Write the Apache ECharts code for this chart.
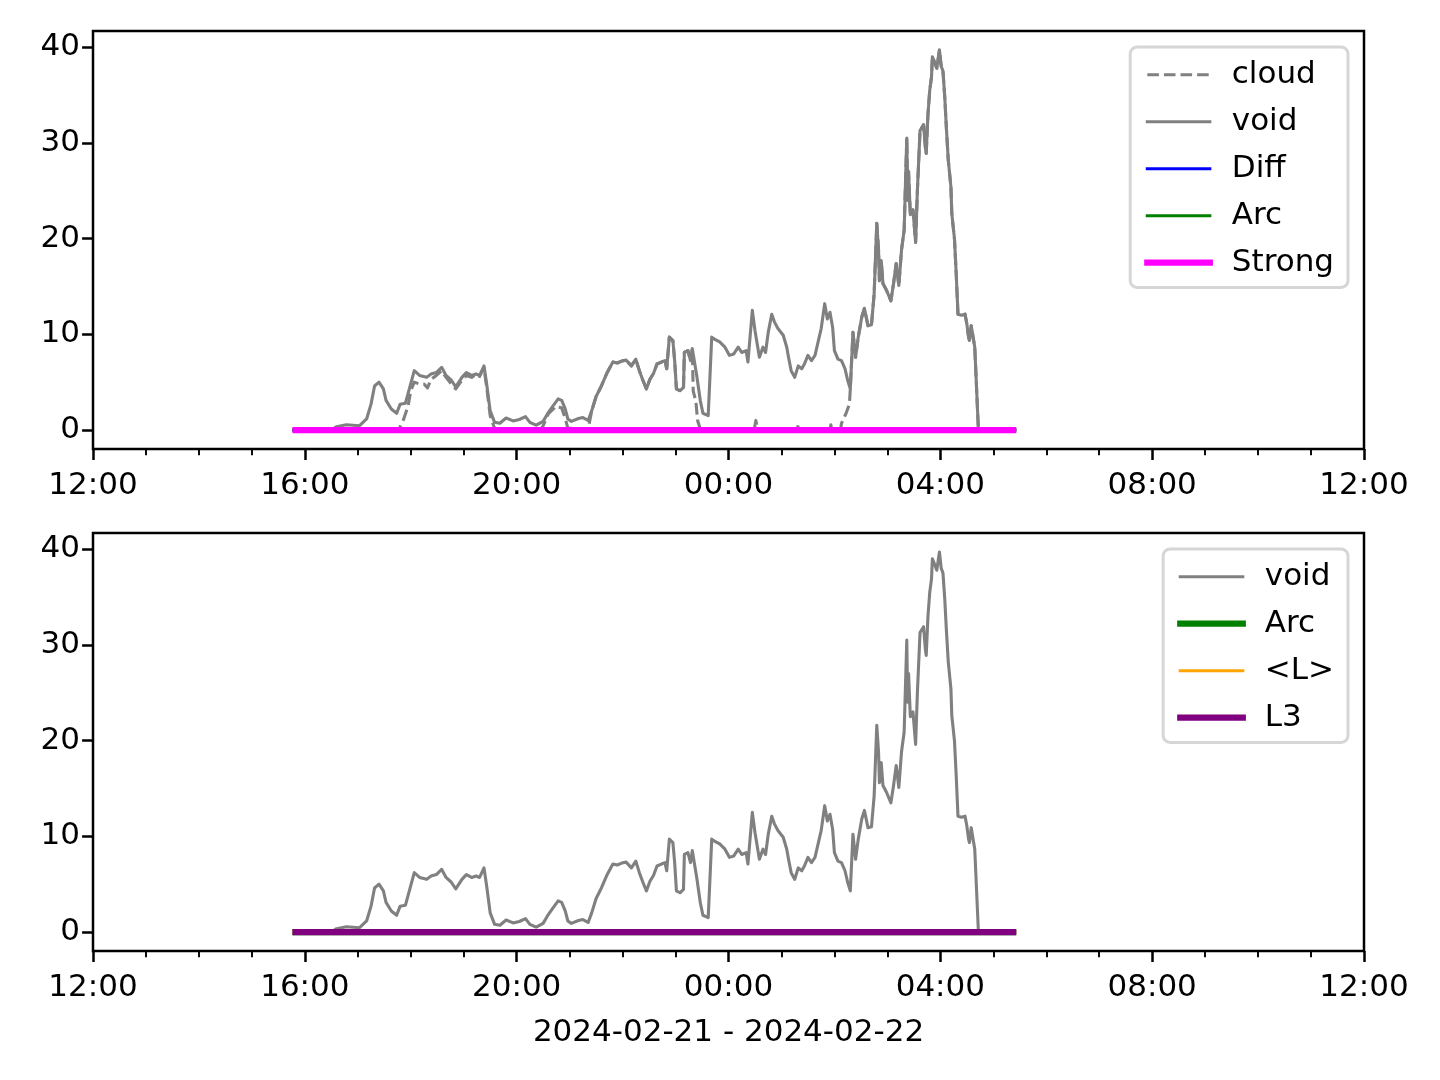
<!DOCTYPE html>
<html><head><meta charset="utf-8">
<script src="https://cdn.jsdelivr.net/npm/echarts@6/dist/echarts.min.js"></script>
<style>html,body{margin:0;padding:0;background:#fff}#c{width:1440px;height:1080px}</style>
</head><body><div id="c"></div>
<script>
// x axis: hours after 2024-02-21 12:00
const xTickLabels = ['12:00','16:00','20:00','00:00','04:00','08:00','12:00'];
const yTicks = [0, 10, 20, 30, 40];
const xlabelText = '2024-02-21 - 2024-02-22';

const voidData = [['15:46',0],['16:30',0],['16:36',0.35],['16:47',0.55],['17:02',0.45],['17:10',1.15],['17:15',2.7],['17:19',4.6],['17:24',5.0],['17:29',4.3],['17:32',3.1],['17:38',2.2],['17:44',1.75],['17:48',2.7],['17:54',2.8],['17:59',4.5],['18:04',6.2],['18:10',5.7],['18:18',5.5],['18:23',5.85],['18:29',6.0],['18:35',6.55],['18:40',5.7],['18:46',5.2],['18:51',4.5],['18:58',5.5],['19:03',6.0],['19:09',5.7],['19:14',5.85],['19:18',5.7],['19:23',6.7],['19:26',4.8],['19:30',2.0],['19:35',0.8],['19:41',0.7],['19:48',1.25],['19:56',0.95],['20:03',1.1],['20:10',1.4],['20:15',0.8],['20:22',0.5],['20:30',0.9],['20:35',1.7],['20:41',2.5],['20:47',3.25],['20:51',3.1],['20:55',2.2],['20:58',1.15],['21:02',0.9],['21:10',1.2],['21:15',1.3],['21:21',1.0],['21:25',2.0],['21:30',3.5],['21:36',4.6],['21:42',5.9],['21:49',7.1],['21:54',7.0],['21:59',7.2],['22:04',7.3],['22:10',6.7],['22:15',7.4],['22:19',6.2],['22:23',5.2],['22:27',4.3],['22:31',5.3],['22:35',5.9],['22:39',6.9],['22:44',7.1],['22:48',7.25],['22:50',6.4],['22:53',9.7],['22:57',9.35],['22:59',7.25],['23:01',4.3],['23:05',4.1],['23:09',4.45],['23:10',8.1],['23:14',8.3],['23:17',7.25],['23:19',8.5],['23:21',8.4],['23:24',5.7],['23:28',3.1],['23:31',1.75],['23:37',1.5],['23:41',9.7],['23:44',9.5],['23:50',9.2],['23:56',8.65],['00:01',7.8],['00:06',7.95],['00:11',8.65],['00:15',8.1],['00:20',8.3],['00:22',7.1],['00:27',12.5],['00:30',10.4],['00:32',10.2],['00:35',7.6],['00:39',8.65],['00:42',8.1],['00:45',10.2],['00:49',12.1],['00:52',11.3],['00:56',10.6],['00:58',10.4],['01:02',9.9],['01:06',8.65],['01:08',7.6],['01:11',6.2],['01:15',5.5],['01:19',6.7],['01:23',6.4],['01:26',6.9],['01:30',7.8],['01:34',7.25],['01:38',7.8],['01:41',9.0],['01:45',10.6],['01:49',13.2],['01:52',11.6],['01:55',12.3],['01:58',10.7],['02:00',8.3],['02:04',7.4],['02:08',7.25],['02:12',6.4],['02:15',5.2],['02:18',4.3],['02:21',10.2],['02:24',7.6],['02:27',9.7],['02:31',11.8],['02:34',12.7],['02:38',10.9],['02:42',11.0],['02:45',14.2],['02:48',21.6],['02:50',18.8],['02:51',15.6],['02:53',17.7],['02:55',15.3],['02:59',14.6],['03:04',13.5],['03:07',15.3],['03:10',17.4],['03:13',15.1],['03:16',18.8],['03:19',20.9],['03:21',21.0],['03:22',30.5],['03:23',24.0],['03:24',27.0],['03:26',22.5],['03:29',23.0],['03:32',19.6],['03:34',25.0],['03:37',31.3],['03:41',31.9],['03:43',29.6],['03:44',28.9],['03:46',33.0],['03:48',35.5],['03:50',36.9],['03:51',39.0],['03:54',38.3],['03:56',37.8],['03:59',39.7],['04:01',38.0],['04:03',37.5],['04:05',34.8],['04:07',31.3],['04:09',28.2],['04:12',25.4],['04:13',22.6],['04:16',20.0],['04:18',16.3],['04:20',12.1],['04:24',12.0],['04:28',12.1],['04:30',11.1],['04:32',9.7],['04:33',9.35],['04:35',10.9],['04:37',10.75],['04:39',8.65],['04:43',0.3],['04:44',0],['05:26',0]];

const cloudData = [['15:46',0],['17:46',0],['17:48',0.35],['17:52',1.15],['17:57',2.5],['18:00',4.1],['18:04',5.0],['18:10',4.8],['18:15',4.8],['18:19',4.4],['18:23',5.3],['18:29',5.7],['18:35',6.2],['18:40',5.5],['18:46',4.8],['18:51',4.3],['18:58',5.2],['19:03',5.7],['19:09',5.5],['19:14',5.8],['19:18',5.6],['19:23',6.5],['19:26',4.5],['19:30',1.5],['19:35',0.15],['20:28',0.15],['20:30',0.45],['20:36',1.7],['20:45',2.5],['20:51',2.3],['20:55',1.2],['20:58',0.2],['21:00',0],['21:21',0.1],['21:25',2.0],['21:30',3.5],['21:36',4.6],['21:42',5.9],['21:49',7.1],['21:54',7.0],['21:59',7.2],['22:04',7.3],['22:10',6.7],['22:15',7.4],['22:19',6.2],['22:23',5.2],['22:27',4.3],['22:31',5.3],['22:35',5.9],['22:39',6.9],['22:44',7.1],['22:48',7.25],['22:50',6.4],['22:53',9.7],['22:57',9.35],['22:59',7.25],['23:01',4.3],['23:05',4.1],['23:09',4.45],['23:10',8.1],['23:14',8.3],['23:17',7.25],['23:19',8.5],['23:20',4.1],['23:23',3.0],['23:25',1.0],['23:28',0.1],['00:29',0],['00:31',1.0],['00:33',0],['01:18',0],['01:19',0.6],['01:20',0],['01:55',0],['01:56',0.55],['01:57',0],['02:07',0],['02:08',0.7],['02:13',1.7],['02:17',2.7],['02:18',4.3],['02:21',10.2],['02:24',7.6],['02:27',9.7],['02:31',11.8],['02:34',12.7],['02:38',10.9],['02:42',11.0],['02:45',14.2],['02:48',21.6],['02:50',18.8],['02:51',15.6],['02:53',17.7],['02:55',15.3],['02:59',14.6],['03:04',13.5],['03:07',15.3],['03:10',17.4],['03:13',15.1],['03:16',18.8],['03:19',20.9],['03:21',21.0],['03:22',30.5],['03:23',24.0],['03:24',27.0],['03:26',22.5],['03:29',23.0],['03:32',19.6],['03:34',25.0],['03:37',31.3],['03:41',31.9],['03:43',29.6],['03:44',28.9],['03:46',33.0],['03:48',35.5],['03:50',36.9],['03:51',39.0],['03:54',38.3],['03:56',37.8],['03:59',39.7],['04:01',38.0],['04:03',37.5],['04:05',34.8],['04:07',31.3],['04:09',28.2],['04:12',25.4],['04:13',22.6],['04:16',20.0],['04:18',16.3],['04:20',12.1],['04:24',12.0],['04:28',12.1],['04:30',11.1],['04:32',9.7],['04:33',9.35],['04:35',10.9],['04:37',10.75],['04:39',8.65],['04:43',0.3],['04:44',0],['05:26',0]];

// flat series (all zero over the record)
const flatTimes = ['15:46','05:26'];
const diffValues = [0, 0];
const arcValues = [0, 0];
const strongValues = [0, 0];
const lMeanValues = [0, 0];
const l3Values = [0, 0];

function hoursAfterNoon(t) {
  const [h, m] = t.split(':').map(Number);
  return (h < 12 ? h + 24 : h) - 12 + m / 60;
}
const toXY = arr => arr.map(p => [hoursAfterNoon(p[0]), p[1]]);
const flat = vals => flatTimes.map((t, i) => [hoursAfterNoon(t), vals[i]]);

const FONT = 'DejaVu Sans';
const FS = 31;
const Y_MIN = -1.985, Y_MAX = 41.69;
const THIN = 3.1, THICK = 6.25;

function xAxisDef(grid, withName) {
  const a = {
    type: 'value', gridIndex: grid, min: 0, max: 24, interval: 4,
    axisLine: { show: false, onZero: false },
    axisTick: { show: true, length: 10.9, lineStyle: { color: '#000', width: 2.5 } },
    minorTick: { show: true, splitNumber: 4, length: 6.25, lineStyle: { color: '#000', width: 1.9 } },
    splitLine: { show: false }, minorSplitLine: { show: false },
    axisLabel: { color: '#000', fontFamily: FONT, fontSize: FS, margin: 21,
      formatter: v => xTickLabels[Math.round(v / 4)] }
  };
  if (withName) {
    a.name = xlabelText; a.nameLocation = 'middle'; a.nameGap = 66;
    a.nameTextStyle = { color: '#000', fontFamily: FONT, fontSize: FS };
  }
  return a;
}
function yAxisDef(grid) {
  return {
    type: 'value', gridIndex: grid, min: Y_MIN, max: Y_MAX,
    axisLine: { show: false, onZero: false },
    axisTick: { show: true, length: 10.9, customValues: yTicks, lineStyle: { color: '#000', width: 2.5 } },
    axisLabel: { color: '#000', fontFamily: FONT, fontSize: FS, margin: 13, customValues: yTicks },
    splitLine: { show: false }
  };
}
function line(name, data, color, width, x, y, dash) {
  return { name, type: 'line', xAxisIndex: x, yAxisIndex: y, data, symbol: 'none', showSymbol: false,
    lineStyle: { color, width, type: dash || 'solid', join: 'round' }, itemStyle: { color }, z: 2 };
}
const legendBase = {
  orient: 'vertical', right: 92, itemWidth: 62.5, itemHeight: 20, itemGap: 15.6,
  backgroundColor: '#fff', borderColor: '#d6d6d6', borderWidth: 3, borderRadius: 7,
  itemStyle: { opacity: 0 },
  textStyle: { color: '#000', fontFamily: FONT, fontSize: FS, lineHeight: 31.4, padding: [0, 0, 0, 17] }
};
const li = (name, width, extra) => ({ name, lineStyle: Object.assign({ width, cap: 'square' }, extra || {}) });

const option = {
  animation: false,
  backgroundColor: '#fff',
  grid: [
    { left: 93, top: 31, width: 1271, height: 418, show: true, borderColor: '#000', borderWidth: 2.5, backgroundColor: 'transparent' },
    { left: 93, top: 533, width: 1271, height: 418, show: true, borderColor: '#000', borderWidth: 2.5, backgroundColor: 'transparent' }
  ],
  xAxis: [xAxisDef(0, false), xAxisDef(1, true)],
  yAxis: [yAxisDef(0), yAxisDef(1)],
  legend: [
    Object.assign({}, legendBase, { top: 47, padding: [12, 14, 9, 14],
      data: [
        li('cloud', THIN, { type: [11.6, 5], cap: 'butt' }),
        li('void', THIN),
        li('Diff', THIN),
        li('Arc', THIN),
        li('Strong', THICK)
      ] }),
    Object.assign({}, legendBase, { top: 549, padding: [12, 14, 9, 14],
      data: [
        li('void', THIN),
        li('Arc ', THICK),
        li('<L>', THIN),
        li('L3', THICK)
      ] })
  ],
  series: [
    line('cloud', toXY(cloudData), '#808080', THIN, 0, 0, [11.6, 5]),
    line('void', toXY(voidData), '#808080', THIN, 0, 0),
    line('Diff', flat(diffValues), '#0000ff', THIN, 0, 0),
    line('Arc', flat(arcValues), '#008000', THIN, 0, 0),
    line('Strong', flat(strongValues), '#ff00ff', THICK, 0, 0),
    line('void', toXY(voidData), '#808080', THIN, 1, 1),
    line('Arc ', flat(arcValues), '#008000', THICK, 1, 1),
    line('<L>', flat(lMeanValues), '#ffa500', THIN, 1, 1),
    line('L3', flat(l3Values), '#800080', THICK, 1, 1)
  ]
};
const chart = echarts.init(document.getElementById('c'), null, { renderer: 'canvas' });
chart.setOption(option);
</script></body></html>
